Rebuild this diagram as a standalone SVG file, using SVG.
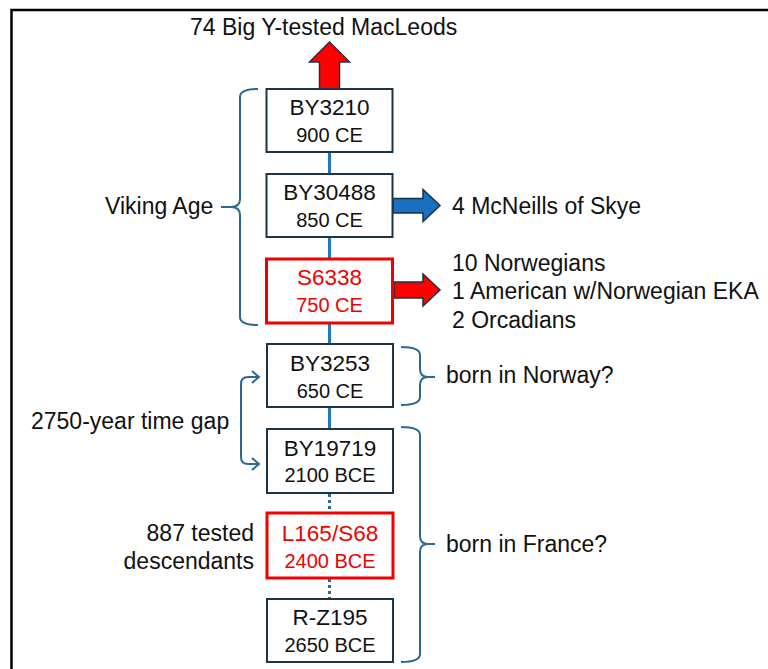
<svg xmlns="http://www.w3.org/2000/svg" width="768" height="669" viewBox="0 0 768 669">
<style>
text{font-family:"Liberation Sans",Arial,sans-serif;fill:#111}
.lbl{font-size:23px}
.t1{font-size:22.5px;text-anchor:middle}
.t2{font-size:20px;text-anchor:middle}
.red{fill:#f20000}
.box{fill:#fff;stroke:#1d3447;stroke-width:2}
.rbox{fill:#fff;stroke:#f20000;stroke-width:3}
.conn{stroke:#1f78c4;stroke-width:3;fill:none}
.dot{stroke:#2a6a9a;stroke-width:3;fill:none;stroke-dasharray:3 3}
.brace{stroke:#2b6a8f;stroke-width:2;fill:none}
.arr{stroke:#1a3248;stroke-width:1.5;stroke-linejoin:miter}
</style>
<rect width="768" height="669" fill="#fff"/>
<path d="M11.5,669 V10 H768" fill="none" stroke="#000" stroke-width="2.5"/>

<g id="connectors">
<line class="conn" x1="329.5" y1="152" x2="329.5" y2="174"/>
<line class="conn" x1="329.5" y1="237" x2="329.5" y2="259"/>
<line class="conn" x1="329.5" y1="323" x2="329.5" y2="344"/>
<line class="conn" x1="329.5" y1="407" x2="329.5" y2="429"/>
<line class="dot" x1="329.5" y1="494" x2="329.5" y2="513"/>
<line class="dot" x1="329.5" y1="579" x2="329.5" y2="599"/>
<path class="arr" fill="#ff0000" d="M319.5,89 V62 H309.5 L329.5,42 L349.5,62 H339.5 V89 Z"/>
<path class="arr" fill="#1a70c0" d="M393,198.5 H423 V189.5 L440,205.5 L423,221.5 V213 H393 Z"/>
<path class="arr" fill="#ff0000" d="M394,282 H423 V274 L440,290 L423,306 V298 H394 Z"/>
<path class="brace" d="M258,89 Q240,89 240,97 V199 Q240,207 231,207 Q240,207 240,215 V317 Q240,325 258,325 M221,207 H233"/>
<path class="brace" d="M401,347 Q420,347 420,355 V369 Q420,377 428,377 Q420,377 420,385 V397 Q420,405 401,405 M426,377 H435"/>
<path class="brace" d="M401,427 Q420,427 420,435 V536 Q420,544 428,544 Q420,544 420,552 V654 Q420,662 401,662 M426,544 H435"/>
<path class="brace" d="M259,377 H248 Q241,377 241,384 V457 Q241,464 248,464 H259 M252,371 L259,377 L252,383 M252,458 L259,464 L252,470"/>
</g>

<g id="title"><text class="lbl" x="190" y="35">74 Big Y-tested MacLeods</text></g>

<g id="n-BY3210">
<rect class="box" x="266.5" y="89" width="126" height="63"/>
<text class="t1" x="329.5" y="115">BY3210</text>
<text class="t2" x="329.5" y="142">900 CE</text>
</g>
<g id="n-BY30488">
<rect class="box" x="266.5" y="174" width="126" height="63"/>
<text class="t1" x="329.5" y="200">BY30488</text>
<text class="t2" x="329.5" y="227">850 CE</text>
</g>
<g id="n-S6338">
<rect class="rbox" x="266.5" y="259" width="126" height="64"/>
<text class="t1 red" x="329.5" y="285">S6338</text>
<text class="t2 red" x="329.5" y="312">750 CE</text>
</g>
<g id="n-BY3253">
<rect class="box" x="267" y="344" width="126" height="63"/>
<text class="t1" x="330" y="371">BY3253</text>
<text class="t2" x="330" y="398">650 CE</text>
</g>
<g id="n-BY19719">
<rect class="box" x="267" y="429" width="126" height="64"/>
<text class="t1" x="330" y="456">BY19719</text>
<text class="t2" x="330" y="482">2100 BCE</text>
</g>
<g id="n-L165">
<rect class="rbox" x="267" y="513" width="126" height="65"/>
<text class="t1 red" x="330" y="541">L165/S68</text>
<text class="t2 red" x="330" y="568">2400 BCE</text>
</g>
<g id="n-RZ195">
<rect class="box" x="267" y="599" width="126" height="63"/>
<text class="t1" x="330" y="625">R-Z195</text>
<text class="t2" x="330" y="652">2650 BCE</text>
</g>

<g id="labels">
<text class="lbl" x="105" y="214">Viking Age</text>
<text class="lbl" x="452" y="214">4 McNeills of Skye</text>
<text class="lbl" x="452" y="271">10 Norwegians</text>
<text class="lbl" x="452" y="299">1 American w/Norwegian EKA</text>
<text class="lbl" x="452" y="328">2 Orcadians</text>
<text class="lbl" x="446" y="383">born in Norway?</text>
<text class="lbl" x="31" y="429">2750-year time gap</text>
<text class="lbl" x="254" y="541" text-anchor="end">887 tested</text>
<text class="lbl" x="254" y="569" text-anchor="end">descendants</text>
<text class="lbl" x="446" y="552">born in France?</text>
</g>
</svg>
